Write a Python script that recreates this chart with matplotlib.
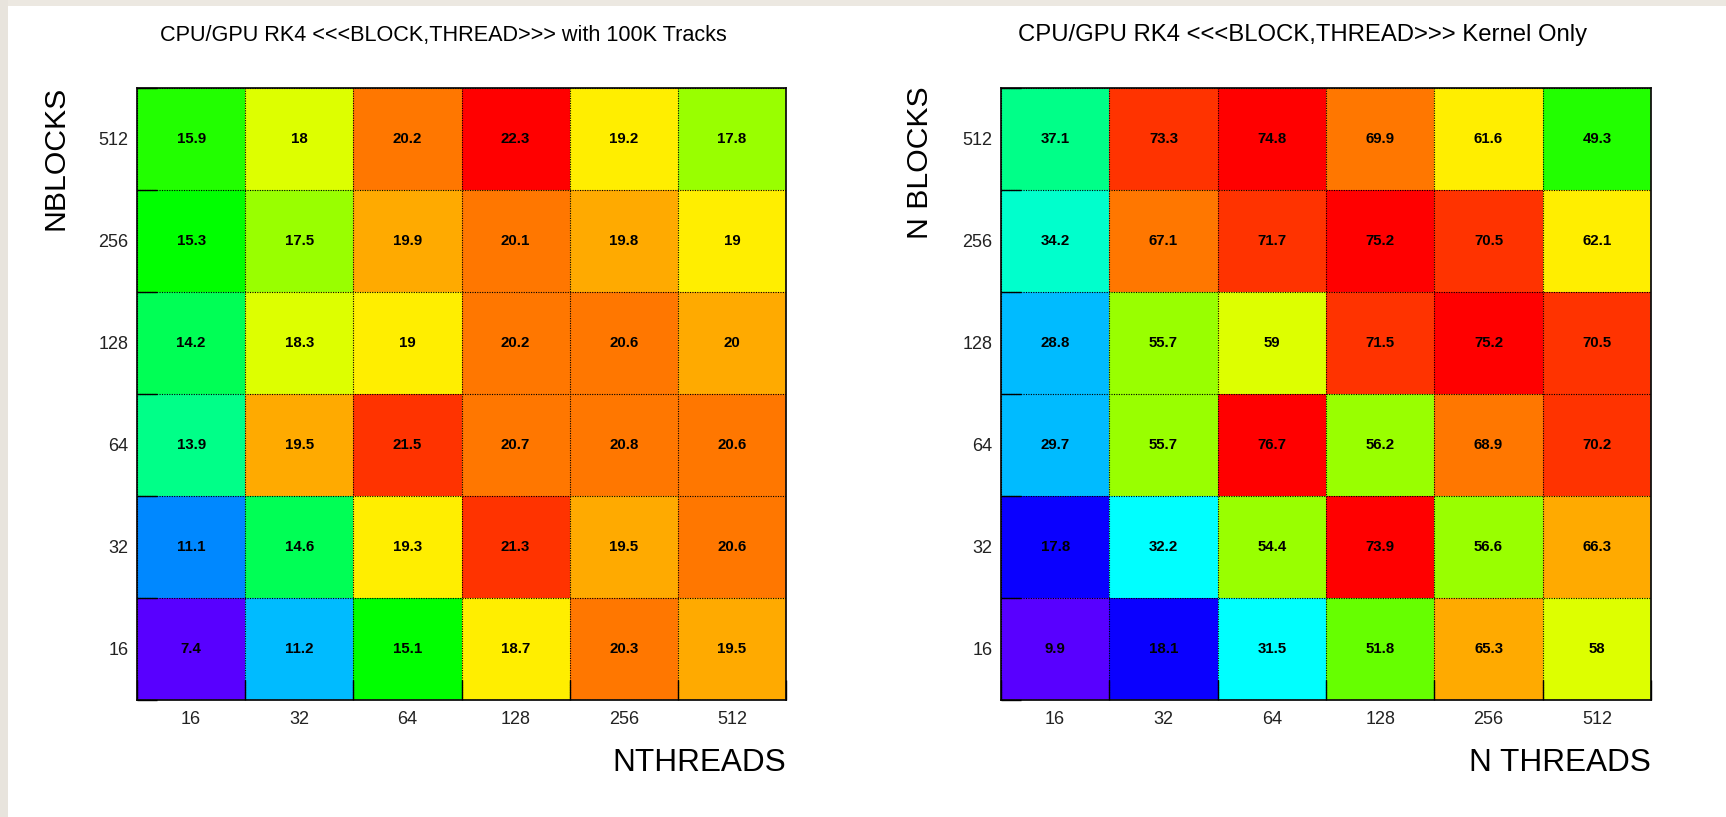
import matplotlib
matplotlib.use("Agg")
import matplotlib.pyplot as plt
from matplotlib.colors import ListedColormap, Normalize
from matplotlib.patches import Rectangle
import numpy as np

# ---------------- data ----------------
threads = ["16", "32", "64", "128", "256", "512"]
blocks = ["16", "32", "64", "128", "256", "512"]  # bottom -> top

# rows: blocks (bottom->top), columns: threads
speedup_100k = [
    [7.4, 11.2, 15.1, 18.7, 20.3, 19.5],
    [11.1, 14.6, 19.3, 21.3, 19.5, 20.6],
    [13.9, 19.5, 21.5, 20.7, 20.8, 20.6],
    [14.2, 18.3, 19.0, 20.2, 20.6, 20.0],
    [15.3, 17.5, 19.9, 20.1, 19.8, 19.0],
    [15.9, 18.0, 20.2, 22.3, 19.2, 17.8],
]
speedup_kernel = [
    [9.9, 18.1, 31.5, 51.8, 65.3, 58.0],
    [17.8, 32.2, 54.4, 73.9, 56.6, 66.3],
    [29.7, 55.7, 76.7, 56.2, 68.9, 70.2],
    [28.8, 55.7, 59.0, 71.5, 75.2, 70.5],
    [34.2, 67.1, 71.7, 75.2, 70.5, 62.1],
    [37.1, 73.3, 74.8, 69.9, 61.6, 49.3],
]

title_left = "CPU/GPU RK4 <<<BLOCK,THREAD>>> with 100K Tracks"
title_right = "CPU/GPU RK4 <<<BLOCK,THREAD>>> Kernel Only"

# ROOT-like 20 level rainbow palette
palette = ["#5800ff", "#3000ff", "#0a00ff", "#0050ff", "#0088ff",
           "#00bbff", "#00ffff", "#00ffcc", "#00ff88", "#00ff55",
           "#00ff00", "#22ff00", "#66ff00", "#99ff00", "#ddff00",
           "#ffee00", "#ffaa00", "#ff7700", "#ff3300", "#ff0000"]
cmap = ListedColormap(palette)

W, H = 1726, 817
fig = plt.figure(figsize=(W / 100, H / 100), dpi=100, facecolor="white")
plt.rcParams["font.family"] = ["Liberation Sans", "DejaVu Sans"]

# paper-like border at top and left
fig.patches.append(Rectangle((0, 1 - 6 / H), 1, 6 / H, transform=fig.transFigure,
                             facecolor="#ece8e1", edgecolor="none", zorder=0))
fig.patches.append(Rectangle((0, 0), 8 / W, 1, transform=fig.transFigure,
                             facecolor="#e8e4dd", edgecolor="none", zorder=0))


def px(x, y):
    return x / W, 1 - y / H


def panel(left_px, right_px, data, title, tcx, tsize, xlabel, ylabel, ylab_x):
    top_px, bot_px = 87.7, 700.0
    ax = fig.add_axes([left_px / W, 1 - bot_px / H, (right_px - left_px) / W,
                       (bot_px - top_px) / H])
    arr = np.array(data)
    norm = Normalize(vmin=arr.min(), vmax=arr.max())
    xe = np.arange(len(threads) + 1)
    ye = np.arange(len(blocks) + 1)
    ax.pcolormesh(xe, ye, arr, cmap=cmap, norm=norm, edgecolors="none")
    for i in range(arr.shape[0]):
        for j in range(arr.shape[1]):
            ax.text(j + 0.5, i + 0.5, f"{arr[i, j]:g}", ha="center", va="center",
                    fontsize=10.8, fontweight="bold", color="black")
    ax.set_xlim(0, len(threads))
    ax.set_ylim(0, len(blocks))
    ax.set_xticks(np.arange(len(threads)) + 0.5, threads)
    ax.set_yticks(np.arange(len(blocks)) + 0.5, blocks)
    ax.tick_params(which="major", length=0, labelsize=13, colors="#222222")
    ax.tick_params(axis="y", which="major", pad=6)
    ax.tick_params(axis="x", which="major", pad=8)
    ax.set_xticks(xe, minor=True)
    ax.set_yticks(ye, minor=True)
    ax.tick_params(which="minor", direction="in", length=14.4, width=1.0,
                   color="black")
    ax.grid(which="minor", linestyle=(0, (1, 1.2)), color="black", linewidth=0.8)
    ax.grid(which="major", visible=False)
    for s in ax.spines.values():
        s.set_linewidth(1.3)
        s.set_color("#111111")
    ax.set_axisbelow(False)
    # titles / labels
    x, y = px(tcx, 35)
    fig.text(x, y, title, ha="center", va="center", fontsize=tsize)
    x, y = px(right_px, 763)
    fig.text(x, y, xlabel, ha="right", va="center", fontsize=22.7)
    x, y = px(ylab_x, 86)
    fig.text(x, y, ylabel, ha="center", va="top", rotation=90, fontsize=21.7)
    return ax


panel(137, 786, speedup_100k, title_left, 443, 15.6, "NTHREADS", "NBLOCKS", 56)
panel(1001, 1651, speedup_kernel, title_right, 1303, 17.2, "N THREADS", "N BLOCKS", 920)

fig.savefig("out.png", dpi=100, facecolor="white")
